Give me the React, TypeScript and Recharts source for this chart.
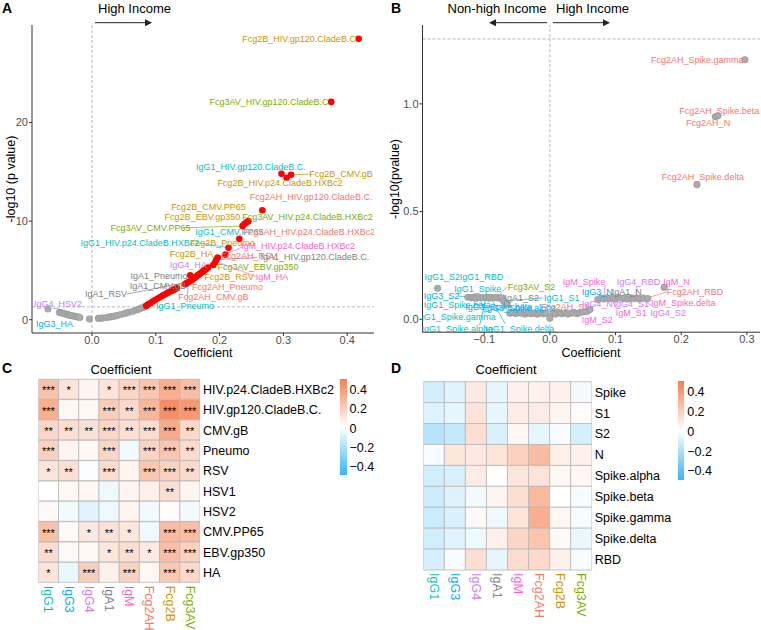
import React from 'react'
import { ScatterChart, Scatter, XAxis, YAxis, ReferenceLine, BarChart, Bar, Cell, LabelList } from 'recharts'

const FONT = "'Liberation Sans', Arial, Helvetica, sans-serif"

const ISOTYPES = ['IgG1', 'IgG3', 'IgG4', 'IgA1', 'IgM', 'Fcg2AH', 'Fcg2B', 'Fcg3AV']
const ISO_COLORS: Record<string, string> = {
  IgG1: '#00BFC4', IgG3: '#00A9FF', IgG4: '#C77CFF', IgA1: '#7F7F7F',
  IgM: '#FF61CC', Fcg2AH: '#F8766D', Fcg2B: '#CD9600', Fcg3AV: '#7CAE00',
}
const P_CUT = 1.301

// ---- panel A: non-SARS antigens, coefficient vs -log10 p
const A_XTICKS = [0, 0.1, 0.2, 0.3, 0.4]
const A_YTICKS = [0, 10, 20]
const A_GREY = [
  [-0.069, 1.09], [-0.051, 0.74], [-0.048, 0.69], [-0.045, 0.64], [-0.041, 0.57], [-0.038, 0.51],
  [-0.035, 0.46], [-0.032, 0.41], [-0.028, 0.36], [-0.025, 0.31], [-0.022, 0.27], [-0.019, 0.23],
  [-0.004, 0.07], [0.010, 0.13], [0.013, 0.15], [0.017, 0.17], [0.023, 0.23], [0.027, 0.27],
  [0.031, 0.31], [0.035, 0.36], [0.039, 0.41], [0.045, 0.52], [0.052, 0.64], [0.057, 0.74],
  [0.064, 0.85], [0.070, 0.99], [0.074, 1.09], [0.078, 1.19], [0.082, 1.30],
]
const A_RED = [
  [0.085, 1.40], [0.088, 1.55], [0.092, 1.70], [0.095, 1.85], [0.099, 2.00], [0.103, 2.15],
  [0.107, 2.30], [0.111, 2.45], [0.114, 2.55], [0.118, 2.70], [0.121, 2.80], [0.124, 2.90],
  [0.127, 3.00], [0.130, 3.10], [0.133, 3.20], [0.146, 3.60], [0.148, 3.70], [0.150, 3.78],
  [0.152, 3.85], [0.154, 4.50], [0.155, 3.95], [0.157, 4.05], [0.159, 4.15], [0.161, 4.25],
  [0.163, 4.35], [0.165, 4.45], [0.167, 4.55], [0.169, 4.65], [0.172, 4.80], [0.174, 4.90],
  [0.176, 5.00], [0.178, 5.10], [0.180, 5.20], [0.182, 5.30], [0.190, 5.55], [0.193, 5.80],
  [0.195, 6.10], [0.197, 6.30], [0.209, 6.60], [0.214, 7.30], [0.231, 8.20], [0.236, 9.50],
  [0.239, 9.70], [0.242, 9.85], [0.245, 10.00], [0.267, 11.10], [0.297, 14.80], [0.305, 14.40],
  [0.312, 14.70], [0.375, 22.10], [0.418, 28.50],
]
const A_LABELS: [string, number, number][] = [
  ['Fcg2B_HIV.gp120.CladeB.C', 0.3245, 28.48],
  ['Fcg3AV_HIV.gp120.CladeB.C', 0.2774, 22.13],
  ['IgG1_HIV.gp120.CladeB.C.', 0.2492, 15.45],
  ['Fcg2B_CMV.gB', 0.3903, 14.77],
  ['Fcg2B_HIV.p24.CladeB.HXBc2', 0.2947, 13.82],
  ['Fcg2AH_HIV.gp120.CladeB.C.', 0.3433, 12.45],
  ['Fcg2B_CMV.PP65', 0.1826, 11.44],
  ['Fcg2B_EBV.gp350', 0.1732, 10.42],
  ['Fcg3AV_HIV.p24.CladeB.HXBc2', 0.3378, 10.42],
  ['Fcg3AV_CMV.PP65', 0.0917, 9.34],
  ['IgG1_CMV.PP65', 0.2155, 8.89],
  ['Fcg2AH_HIV.p24.CladeB.HXBc2', 0.3409, 8.89],
  ['IgG1_HIV.p24.CladeB.HXBc2', 0.0752, 7.81],
  ['Fcg2B_Pneumo', 0.2045, 7.81],
  ['IgM_HIV.p24.CladeB.HXBc2', 0.3229, 7.46],
  ['Fcg2B_HA', 0.156, 6.69],
  ['Fcg2AH_RSV', 0.2461, 6.42],
  ['IgA1_HIV.gp120.CladeB.C.', 0.3495, 6.34],
  ['IgG4_HA', 0.151, 5.6],
  ['Fcg3AV_EBV.gp350', 0.2602, 5.33],
  ['IgA1_Pneumo', 0.105, 4.48],
  ['Fcg2B_RSV', 0.2147, 4.31],
  ['IgM_HA', 0.2821, 4.31],
  ['IgA1_CMV.gB', 0.1034, 3.46],
  ['Fcg2AH_Pneumo', 0.2124, 3.36],
  ['IgA1_RSV', 0.0219, 2.62],
  ['Fcg2AH_CMV.gB', 0.1904, 2.34],
  ['IgG1_Pneumo', 0.1458, 1.43],
  ['IgG4_HSV2', -0.0533, 1.6],
  ['IgG3_HA', -0.0588, -0.44],
]
// label -> point connectors [x1, y1, x2, y2, isotype]
const A_SEGMENTS: [number, number, number, number, string][] = [
  [0.312, 14.7, 0.342, 14.77, 'Fcg2B'],
  [0.143, 9.33, 0.236, 9.5, 'Fcg3AV'],
  [0.166, 7.8, 0.214, 7.3, 'IgG1'],
  [0.259, 6.3, 0.195, 6.1, 'IgA1'],
  [0.055, 2.6, 0.148, 3.8, 'IgA1'],
  [0.149, 1.75, 0.151, 3.7, 'IgG1'],
  [0.235, 7.35, 0.197, 6.3, 'IgM'],
  [0.258, 4.35, 0.195, 5.9, 'IgM'],
]

// ---- panel B: SARS-CoV-2 antigens
const B_XTICKS = [-0.1, 0, 0.1, 0.2, 0.3]
const B_YTICKS = [0, 0.5, 1]
const B_POINTS = [
  [-0.171, 0.144], [-0.125, 0.102], [-0.120, 0.100], [-0.116, 0.102], [-0.112, 0.098], [-0.107, 0.102],
  [-0.102, 0.100], [-0.097, 0.102], [-0.093, 0.098], [-0.090, 0.102], [-0.085, 0.100], [-0.081, 0.102],
  [-0.077, 0.098], [-0.073, 0.100], [-0.070, 0.082], [-0.065, 0.070], [-0.061, 0.028], [-0.056, 0.032],
  [-0.052, 0.026], [-0.047, 0.030], [-0.043, 0.028], [-0.038, 0.024], [-0.034, 0.030], [-0.029, 0.026],
  [-0.024, 0.028], [-0.019, 0.024], [-0.015, 0.030], [-0.010, 0.026], [-0.006, 0.028], [0.000, 0.005],
  [0.005, 0.028], [0.009, 0.024], [0.014, 0.030], [0.018, 0.026], [0.023, 0.030], [0.027, 0.024],
  [0.032, 0.028], [0.036, 0.032], [0.041, 0.026], [0.045, 0.030], [0.050, 0.034], [0.056, 0.036],
  [0.061, 0.045], [0.073, 0.092], [0.078, 0.098], [0.082, 0.094], [0.087, 0.100], [0.091, 0.096],
  [0.096, 0.100], [0.100, 0.094], [0.105, 0.100], [0.110, 0.096], [0.114, 0.100], [0.119, 0.094],
  [0.124, 0.100], [0.128, 0.096], [0.133, 0.098], [0.137, 0.094], [0.142, 0.098], [0.149, 0.096],
  [0.174, 0.148], [0.224, 0.625], [0.252, 0.940], [0.256, 0.945], [0.297, 1.205],
]
const B_LABELS: [string, number, number][] = [
  ['Fcg2AH_Spike.gamma', 0.2245, 1.205],
  ['Fcg2AH_Spike.beta', 0.258, 0.966],
  ['Fcg2AH_N', 0.241, 0.912],
  ['Fcg2AH_Spike.delta', 0.233, 0.662],
  ['IgG1_S2', -0.164, 0.198],
  ['IgG1_RBD', -0.104, 0.198],
  ['IgG1_Spike', -0.11, 0.141],
  ['Fcg3AV_S2', -0.028, 0.152],
  ['IgG3_S2', -0.165, 0.108],
  ['IgA1_S2', -0.043, 0.099],
  ['IgG1_S1', 0.018, 0.1],
  ['IgG1_Spike.beta', -0.141, 0.064],
  ['IgG3_Spike.beta', -0.078, 0.057],
  ['IgG3_Spike.alpha', -0.045, 0.052],
  ['Fcg2AH_S1', 0.023, 0.057],
  ['IgG1_Spike.gamma', -0.143, 0.012],
  ['IgG1_Spike.alpha', -0.141, -0.045],
  ['IgG1_Spike.delta', -0.046, -0.045],
  ['IgM_Spike', 0.052, 0.175],
  ['IgG4_RBD', 0.135, 0.175],
  ['IgM_N', 0.193, 0.175],
  ['IgG3_N', 0.072, 0.128],
  ['IgA1_N', 0.117, 0.128],
  ['Fcg2AH_RBD', 0.221, 0.126],
  ['IgG4_N', 0.072, 0.07],
  ['IgG4_S1', 0.124, 0.07],
  ['IgM_Spike.delta', 0.203, 0.074],
  ['IgM_S1', 0.124, 0.031],
  ['IgG4_S2', 0.18, 0.031],
  ['IgM_S2', 0.072, -0.003],
]
const B_SEGMENTS: [number, number, number, number, string][] = [
  [-0.065, 0.15, -0.081, 0.104, 'Fcg3AV'],
  [-0.011, 0.099, -0.072, 0.085, 'IgG1'],
  [0.178, 0.127, 0.149, 0.099, 'Fcg2AH'],
  [-0.099, 0.029, -0.107, 0.099, 'IgG1'],
  [-0.107, -0.027, -0.097, 0.099, 'IgG1'],
  [-0.068, -0.022, -0.09, 0.099, 'IgG1'],
  [0.132, 0.155, 0.131, 0.099, 'IgG4'],
  [0.084, 0.16, 0.082, 0.099, 'IgM'],
  [0.102, 0.048, 0.094, 0.094, 'IgM'],
  [0.16, 0.053, 0.14, 0.094, 'IgG4'],
  [-0.14, 0.108, -0.125, 0.104, 'IgG3'],
]

// ---- panel C heatmap
const C_ROWS = ['HIV.p24.CladeB.HXBc2', 'HIV.gp120.CladeB.C.', 'CMV.gB', 'Pneumo', 'RSV', 'HSV1', 'HSV2', 'CMV.PP65', 'EBV.gp350', 'HA']
const C_COEF = [
  [0.23, 0.10, 0.04, 0.10, 0.15, 0.21, 0.30, 0.24],
  [0.30, 0.03, 0.03, 0.19, 0.14, 0.27, 0.42, 0.38],
  [0.15, 0.12, 0.11, 0.15, 0.12, 0.13, 0.31, 0.14],
  [0.17, 0.04, 0.03, 0.15, -0.03, 0.16, 0.21, 0.13],
  [0.10, 0.12, -0.01, 0.13, 0.04, 0.21, 0.17, 0.14],
  [0.00, 0.03, 0.03, -0.04, 0.04, 0.06, 0.12, 0.04],
  [0.02, -0.03, -0.07, -0.04, 0.04, -0.03, 0.01, -0.03],
  [0.23, 0.02, 0.08, 0.11, 0.09, -0.04, 0.25, 0.24],
  [0.13, 0.02, 0.03, 0.09, 0.12, 0.08, 0.24, 0.17],
  [0.10, -0.05, 0.18, 0.05, 0.17, 0.03, 0.20, 0.14],
]
const C_STARS = [
  ['***', '*', '', '*', '***', '***', '***', '***'],
  ['***', '', '', '***', '**', '***', '***', '***'],
  ['**', '**', '**', '***', '**', '***', '***', '**'],
  ['***', '', '', '***', '', '***', '***', '**'],
  ['*', '**', '', '***', '', '***', '***', '**'],
  ['', '', '', '', '', '', '**', ''],
  ['', '', '', '', '', '', '', ''],
  ['***', '', '*', '**', '*', '', '***', '***'],
  ['**', '', '', '*', '**', '*', '***', '***'],
  ['*', '', '***', '', '***', '', '***', '**'],
]

// ---- panel D heatmap
const D_ROWS = ['Spike', 'S1', 'S2', 'N', 'Spike.alpha', 'Spike.beta', 'Spike.gamma', 'Spike.delta', 'RBD']
const D_COEF = [
  [-0.11, -0.07, 0.08, -0.06, 0.05, 0.05, 0.05, -0.03],
  [-0.08, -0.06, 0.10, -0.06, 0.07, 0.07, 0.04, 0.01],
  [-0.17, -0.14, 0.12, -0.09, 0.03, -0.06, -0.02, -0.10],
  [-0.02, 0.09, 0.08, 0.10, 0.17, 0.25, 0.06, 0.05],
  [-0.11, -0.09, 0.07, 0.00, 0.09, 0.10, 0.03, 0.03],
  [-0.12, -0.08, -0.03, 0.04, 0.12, 0.26, 0.00, -0.02],
  [-0.12, -0.09, 0.02, -0.04, 0.10, 0.30, 0.03, -0.02],
  [-0.11, -0.07, -0.04, 0.05, 0.15, 0.22, 0.02, -0.05],
  [-0.10, -0.02, 0.12, -0.06, 0.13, 0.14, 0.05, -0.02],
]
const LEGEND_TICKS = [0.4, 0.2, 0, -0.2, -0.4]

const HI = [244, 128, 79]
const LO = [53, 182, 244]
function heatColor(v: number) {
  const t = Math.max(-1, Math.min(1, v / 0.47))
  const c = t >= 0 ? HI : LO
  const a = Math.abs(t)
  const m = (k: number) => Math.round(255 - a * (255 - c[k]))
  return `rgb(${m(0)},${m(1)},${m(2)})`
}
const fmt = (v: number) => (v < 0 ? '\u2212' + Math.abs(v).toFixed(1) : v.toFixed(1))
const legendFmt = (v: number) => (v === 0 ? '0' : fmt(v))

const toPts = (a: number[][]) => a.map(([x, y]) => ({ x, y }))
const toLabels = (a: [string, number, number][]) => a.map(([name, x, y]) => ({ name, x, y }))

const greyDot = (p: any) => <circle cx={p.cx} cy={p.cy} r={3.3} fill="#ABABAB" stroke="#8c8c8c" strokeWidth={0.5} />
const redDot = (p: any) => <circle cx={p.cx} cy={p.cy} r={3.3} fill="#FF0000" />
const repelLabel = (p: any) => (
  <text x={p.cx} y={p.cy} textAnchor="middle" dominantBaseline="central" fontSize={9} fontFamily={FONT}
    fill={ISO_COLORS[p.payload.name.split('_')[0]]}>{p.payload.name}</text>
)

const axisStyle = { stroke: '#333', tick: { fill: '#4d4d4d', fontSize: 11, fontFamily: FONT }, tickSize: 3 }
const dash = { stroke: '#9a9a9a', strokeDasharray: '3 2', strokeWidth: 0.7 }

function segLines(segs: [number, number, number, number, string][]) {
  return segs.map(([x1, y1, x2, y2, k], i) => (
    <ReferenceLine key={'s' + i} segment={[{ x: x1, y: y1 }, { x: x2, y: y2 }]} stroke={ISO_COLORS[k]} strokeWidth={0.7} />
  ))
}

function Heatmap({ rows, coef, stars, width, height, margin, xHeight }: any) {
  const data = rows.map((r: string) => {
    const o: any = { row: r }
    ISOTYPES.forEach((k) => (o[k] = 1))
    return o
  })
  const colTicks = ISOTYPES.map((_, j) => j + 0.5)
  const colTick = (p: any) => {
    const name = ISOTYPES[Math.floor(p.payload.value)]
    return (
      <text x={p.x} y={p.y} transform={`rotate(90 ${p.x} ${p.y})`} dominantBaseline="central" fontSize={12.5}
        fontFamily={FONT} fill={ISO_COLORS[name]}>{name}</text>
    )
  }
  return (
    <BarChart width={width} height={height} data={data} layout="vertical" margin={margin} barCategoryGap={0} barGap={0}>
      <XAxis type="number" domain={[0, 8]} allowDataOverflow ticks={colTicks} tick={colTick} axisLine={false}
        tickLine={false} tickSize={0} tickMargin={3} height={xHeight} interval={0} />
      <YAxis type="category" dataKey="row" orientation="right" axisLine={false} tickLine={false} tickSize={0}
        tickMargin={3} width={140} interval={0} tick={{ fill: '#000', fontSize: 12.5, fontFamily: FONT }} />
      {ISOTYPES.map((k, j) => (
        <Bar key={k} dataKey={k} stackId="h" isAnimationActive={false} stroke="#b8b8b8" strokeWidth={0.8}>
          {rows.map((_: string, i: number) => <Cell key={i} fill={heatColor(coef[i][j])} />)}
          {stars && (
            <LabelList dataKey={k} content={(p: any) => (
              <text x={p.x + p.width / 2} y={p.y + p.height / 2 + 5} textAnchor="middle" fontSize={11}
                fontFamily={FONT} fill="#000">{stars[p.index][j]}</text>
            )} />
          )}
        </Bar>
      ))}
    </BarChart>
  )
}

function ColorBar({ left, top, height }: { left: number; top: number; height: number }) {
  const hi = `rgb(${HI.join(',')})`
  const lo = `rgb(${LO.join(',')})`
  return (
    <>
      <div style={{ position: 'absolute', left, top, width: 6.5, height, background: `linear-gradient(${hi}, #ffffff, ${lo})` }} />
      {LEGEND_TICKS.map((v) => (
        <div key={v} style={{ position: 'absolute', left: left + 9.5, top: top + ((0.5 - v) / 1.0) * height + 1.5, transform: 'translateY(-50%)', fontSize: 12.5, lineHeight: 1, color: '#000' }}>
          {legendFmt(v)}
        </div>
      ))}
    </>
  )
}

function Txt({ x, y, children, size = 12.5, bold = false, rotate = false, color = '#000' }: any) {
  return (
    <div style={{
      position: 'absolute', left: x, top: y, fontSize: size, fontWeight: bold ? 700 : 400, color, lineHeight: 1,
      whiteSpace: 'nowrap', transform: `translate(-50%, -50%)${rotate ? ' rotate(-90deg)' : ''}`,
    }}>{children}</div>
  )
}

function Arrow({ x1, x2, y }: { x1: number; x2: number; y: number }) {
  const d = x2 > x1 ? 1 : -1
  return (
    <g>
      <line x1={x1} y1={y} x2={x2 - d * 6} y2={y} stroke="#222" strokeWidth={1} />
      <polygon points={`${x2},${y} ${x2 - d * 7},${y - 3.5} ${x2 - d * 7},${y + 3.5}`} fill="#222" />
    </g>
  )
}

export default function App() {
  return (
    <div style={{ position: 'absolute', left: 0, top: 0, width: 761, height: 630, background: '#fff', fontFamily: FONT, overflow: 'hidden' }}>
      <div style={{ position: 'absolute', left: 0, top: 0 }}>
        <ScatterChart width={380} height={360} margin={{ top: 25, right: 6, bottom: 0, left: 0 }}>
          <XAxis type="number" dataKey="x" domain={[-0.094, 0.442]} allowDataOverflow ticks={A_XTICKS}
            tickFormatter={fmt} height={27} tickMargin={0} {...axisStyle} />
          <YAxis type="number" dataKey="y" domain={[-1.35, 29.9]} allowDataOverflow ticks={A_YTICKS}
            width={32} tickMargin={1} {...axisStyle} />
          <ReferenceLine x={0} {...dash} />
          <ReferenceLine y={P_CUT} {...dash} />
          <Scatter data={toPts(A_GREY)} shape={greyDot} isAnimationActive={false} />
          <Scatter data={toPts(A_RED)} shape={redDot} isAnimationActive={false} />
          {segLines(A_SEGMENTS)}
          <Scatter data={toLabels(A_LABELS)} shape={repelLabel} isAnimationActive={false} />
        </ScatterChart>
      </div>

      <div style={{ position: 'absolute', left: 380, top: 0 }}>
        <ScatterChart width={381} height={360} margin={{ top: 25, right: 1, bottom: 0, left: 0 }}>
          <XAxis type="number" dataKey="x" domain={[-0.194, 0.32]} allowDataOverflow ticks={B_XTICKS}
            tickFormatter={fmt} height={27.8} tickMargin={0} {...axisStyle} />
          <YAxis type="number" dataKey="y" domain={[-0.06, 1.366]} allowDataOverflow ticks={B_YTICKS}
            tickFormatter={(v: number) => v.toFixed(1)} width={42.5} tickMargin={1} {...axisStyle} />
          <ReferenceLine x={0} {...dash} />
          <ReferenceLine y={P_CUT} {...dash} />
          <Scatter data={toPts(B_POINTS)} shape={greyDot} isAnimationActive={false} />
          {segLines(B_SEGMENTS)}
          <Scatter data={toLabels(B_LABELS)} shape={repelLabel} isAnimationActive={false} />
        </ScatterChart>
      </div>

      <div style={{ position: 'absolute', left: 0, top: 370 }}>
        <Heatmap rows={C_ROWS} coef={C_COEF} stars={C_STARS} width={380} height={260} xHeight={47}
          margin={{ top: 9.3, right: 40, bottom: 0.3, left: 38.3 }} />
      </div>
      <div style={{ position: 'absolute', left: 380, top: 370 }}>
        <Heatmap rows={D_ROWS} coef={D_COEF} width={381} height={260} xHeight={60}
          margin={{ top: 11.7, right: 29.3, bottom: 0, left: 43.3 }} />
      </div>
      <ColorBar left={340} top={379} height={96} />
      <ColorBar left={677.7} top={380.7} height={99} />

      <svg width={761} height={40} style={{ position: 'absolute', left: 0, top: 0 }}>
        <Arrow x1={95} x2={152} y={22.7} />
        <Arrow x1={547} x2={489} y={22.7} />
        <Arrow x1={553} x2={610} y={22.7} />
      </svg>

      <Txt x={7} y={8} size={14} bold>A</Txt>
      <Txt x={396} y={8} size={14} bold>B</Txt>
      <Txt x={7} y={368} size={14} bold>C</Txt>
      <Txt x={396} y={368} size={14} bold>D</Txt>
      <Txt x={134.5} y={8} size={13}>High Income</Txt>
      <Txt x={497} y={8} size={13}>Non-high Income</Txt>
      <Txt x={592.5} y={8} size={13}>High Income</Txt>
      <Txt x={203} y={353}>Coefficient</Txt>
      <Txt x={591} y={353}>Coefficient</Txt>
      <Txt x={11} y={179} rotate>-log10 (p value)</Txt>
      <Txt x={395} y={179} rotate>-log10(pvalue)</Txt>
      <Txt x={121} y={369} size={13}>Coefficient</Txt>
      <Txt x={506} y={369} size={13}>Coefficient</Txt>
    </div>
  )
}
